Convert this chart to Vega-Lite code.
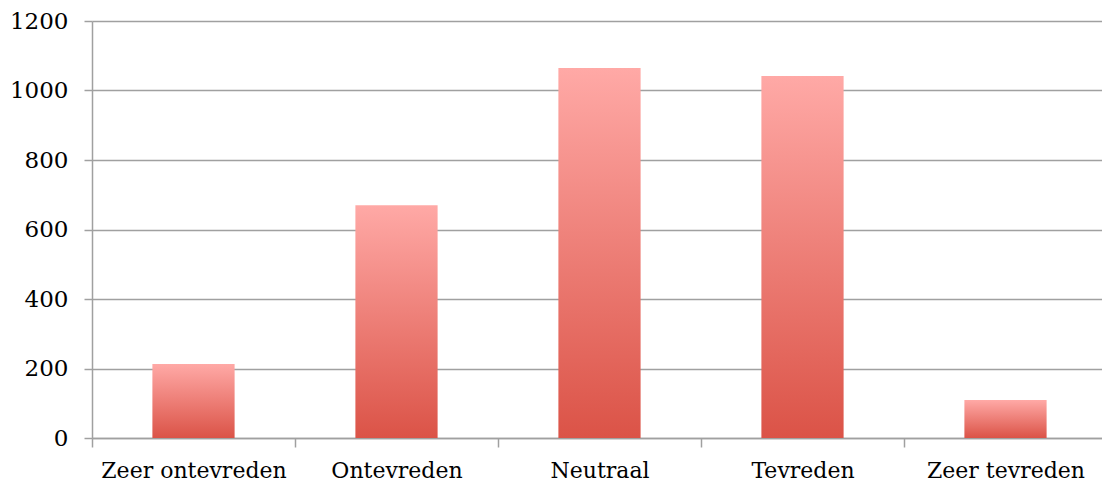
{
  "$schema": "https://vega.github.io/schema/vega-lite/v6.json",
  "width": 1015,
  "height": 417,
  "autosize": {"type": "none"},
  "padding": {"left": 92, "top": 21, "right": 0, "bottom": 49},
  "background": "white",
  "config": {"view": {"stroke": null}, "font": "DejaVu Serif"},
  "data": {"values": [
    {"category": "Zeer ontevreden", "value": 213},
    {"category": "Ontevreden", "value": 670},
    {"category": "Neutraal", "value": 1065},
    {"category": "Tevreden", "value": 1042},
    {"category": "Zeer tevreden", "value": 109}
  ]},
  "mark": {
    "type": "bar",
    "width": {"band": 0.405},
    "color": {
      "gradient": "linear",
      "x1": 0, "y1": 0, "x2": 0, "y2": 1,
      "stops": [
        {"offset": 0, "color": "#FFA9A6"},
        {"offset": 1, "color": "#DB5347"}
      ]
    }
  },
  "encoding": {
    "x": {
      "field": "category",
      "type": "nominal",
      "sort": null,
      "scale": {"paddingInner": 0, "paddingOuter": 0},
      "axis": {
        "title": null,
        "labelAngle": 0,
        "labelLimit": 0,
        "labelOverlap": false,
        "tickBand": "extent",
        "domainColor": "#A0A0A0",
        "domainWidth": 1.5,
        "tickColor": "#A0A0A0",
        "tickWidth": 1.5,
        "tickSize": 9,
        "labelPadding": 13,
        "labelFont": "DejaVu Serif",
        "labelFontSize": 22,
        "labelColor": "#000000",
        "grid": false
      }
    },
    "y": {
      "field": "value",
      "type": "quantitative",
      "scale": {"domain": [0, 1200], "nice": false},
      "axis": {
        "title": null,
        "format": "d",
        "values": [0, 200, 400, 600, 800, 1000, 1200],
        "grid": true,
        "gridColor": "#A0A0A0",
        "gridWidth": 1.5,
        "domainColor": "#A0A0A0",
        "domainWidth": 1.5,
        "tickColor": "#A0A0A0",
        "tickWidth": 1.5,
        "tickSize": 8,
        "labelPadding": 16,
        "labelFont": "DejaVu Serif",
        "labelFontSize": 23,
        "labelColor": "#000000"
      }
    }
  }
}
